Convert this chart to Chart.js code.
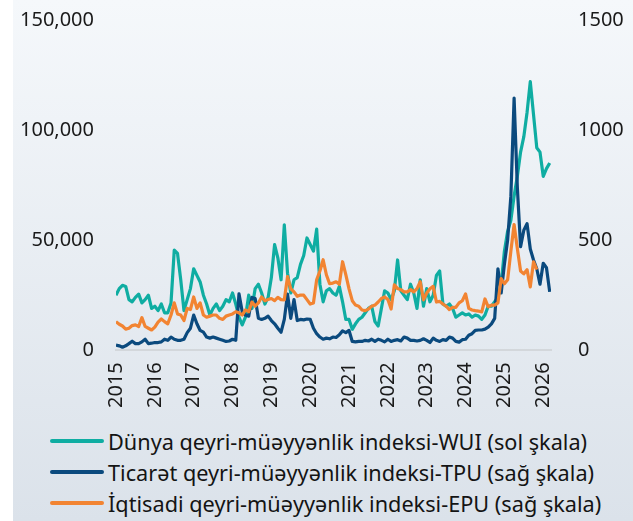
<!DOCTYPE html>
<html>
<head>
<meta charset="utf-8">
<script src="https://cdn.jsdelivr.net/npm/chart.js@4.4.1/dist/chart.umd.min.js"></script>
<style>
  html, body { margin: 0; padding: 0; background: #fff; overflow: hidden; }
  #wrap {
    position: absolute; left: 13px; top: 0; width: 620px; height: 521px;
    background: linear-gradient(#f5f8fb, #dbe2ea);
  }
  #box { position: absolute; left: 0; top: -19px; width: 633px; height: 431px; }
  .leg {
    position: absolute; left: 50px; height: 30px;
    font-family: "Noto Sans", sans-serif; font-size: 21.7px; color: #141414;
    display: flex; align-items: center; white-space: nowrap;
  }
  .leg i { display: inline-block; width: 54px; height: 4px; border-radius: 2px; margin-right: 4px; }
</style>
</head>
<body>
<div id="wrap"></div>
<div id="box"><canvas id="myChart"></canvas></div>
<div id="legend"></div>
<script>
// monthly, Jan 2015 ... Mar 2026
const startYear = 2015;

const wui = [
  25, 28, 29.5, 29, 23, 22, 24, 25.5, 21.5, 23, 25, 19,
  20, 18, 21, 17, 17, 21.5, 45.5, 44, 32, 18, 23, 28,
  37, 34, 31, 25, 21, 16, 19, 21, 18, 20, 23, 22,
  26, 21, 15, 11.5, 15, 25, 19, 28, 30, 26, 21, 24,
  33, 48, 42, 32, 57, 35, 26, 32, 33, 39, 43, 51,
  48, 45, 55, 30, 22, 27, 28, 26, 25, 29, 22, 14,
  14, 9.5, 12, 14, 15, 17, 19, 20, 13, 11, 19, 27,
  26, 23, 27, 41, 27, 25, 23, 30, 26, 19, 32, 20,
  28, 22, 25, 34, 36, 21, 20, 21, 19, 15, 16, 17,
  16, 16.5, 15, 16, 15.5, 14, 16, 20, 20, 22, 24, 30,
  45, 54, 59, 70, 79, 90, 97, 108, 122, 107, 92, 90,
  79, 82.5, 85
].map(v => v * 1000);

const tpu = [
  23, 20, 14, 20, 30, 41, 30, 30, 38, 50, 30, 32,
  35, 35, 38, 50, 45, 60, 50, 45, 45, 50, 80, 100,
  160, 120, 90, 82, 60, 55, 60, 55, 50, 45, 40, 42,
  50, 45, 256, 175, 160, 155, 240, 235, 145, 140, 145, 155,
  135, 120, 100, 82, 140, 255, 145, 230, 135, 140, 138, 142,
  140, 100, 75, 60, 50, 55, 52, 60, 58, 70, 88, 80,
  90, 40, 38, 40, 40, 45, 42, 50, 40, 50, 45, 38,
  50, 40, 45, 48, 42, 60, 55, 45, 45, 42, 45, 52,
  45, 35, 55, 45, 40, 48, 45, 60, 55, 40, 37, 48,
  50, 68, 75, 90, 92, 92, 96, 105, 120, 145, 370, 260,
  390, 500, 700, 1145, 740, 470, 545, 575, 460, 410, 370, 300,
  395, 375, 265
];

const epu = [
  130, 118, 110, 96, 100, 112, 115, 108, 148, 108, 100, 92,
  105, 128, 142, 130, 120, 160, 215, 165, 160, 135, 190, 185,
  242, 190, 215, 160, 150, 155, 160, 160, 145, 140, 155, 160,
  165, 175, 170, 160, 183, 175, 219, 200, 215, 242, 225, 230,
  235, 225, 240, 230, 229, 334, 279, 265, 245, 251, 250, 230,
  210, 215, 320, 360, 411, 343, 302, 305, 311, 300, 402, 343,
  279, 225, 205, 200, 183, 180, 187, 200, 205, 219, 235, 242,
  230, 187, 297, 280, 275, 265, 265, 275, 265, 280, 311, 229,
  260, 279, 290, 219, 222, 210, 200, 185, 195, 195, 215, 225,
  256, 190, 183, 180, 178, 174, 233, 197, 205, 205, 215, 325,
  302, 320, 450, 571, 462, 360, 347, 366, 288, 402, 366
];

const yearTicks = [2015, 2016, 2017, 2018, 2019, 2020, 2021, 2022, 2023, 2024, 2025, 2026];

const seriesNames = [
  'Dünya qeyri-müəyyənlik indeksi-WUI (sol şkala)',
  'Ticarət qeyri-müəyyənlik indeksi-TPU (sağ şkala)',
  'İqtisadi qeyri-müəyyənlik indeksi-EPU (sağ şkala)'
];
const colors = ['#0fada2', '#0b4a7e', '#f28432'];

function toPoints(arr) {
  return arr.map((v, i) => ({ x: startYear + i / 12, y: v }));
}

const font = { family: 'Noto Sans', size: 20 };

new Chart(document.getElementById('myChart'), {
  type: 'line',
  data: {
    datasets: [
      { label: seriesNames[0], data: toPoints(wui), borderColor: colors[0], yAxisID: 'y', order: 2 },
      { label: seriesNames[1], data: toPoints(tpu), borderColor: colors[1], yAxisID: 'y1', order: 1 },
      { label: seriesNames[2], data: toPoints(epu), borderColor: colors[2], yAxisID: 'y1', order: 0 }
    ]
  },
  options: {
    responsive: true,
    maintainAspectRatio: false,
    animation: false,
    layout: { padding: { top: 10, bottom: 0 } },
    elements: {
      line: { borderWidth: 3.2, tension: 0, borderJoinStyle: 'round' },
      point: { radius: 0 }
    },
    plugins: { legend: { display: false }, tooltip: { enabled: false } },
    scales: {
      x: {
        type: 'linear',
        min: 2015,
        max: 2026.2,
        afterBuildTicks: s => { s.ticks = yearTicks.map(v => ({ value: v })); },
        ticks: { font: font, color: '#1a1a1a', minRotation: 90, maxRotation: 90, padding: 4,
                 callback: v => String(v) },
        grid: { display: false },
        border: { display: true, color: '#d3d7db', width: 2 }
      },
      y: {
        position: 'left',
        min: 0, max: 150000,
        ticks: { stepSize: 50000, font: font, color: '#1a1a1a', padding: 22 },
        grid: { display: false, drawTicks: false },
        border: { display: false },
        afterFit: s => { s.width = 116; }
      },
      y1: {
        position: 'right',
        min: 0, max: 1500,
        ticks: { stepSize: 500, font: font, color: '#1a1a1a', padding: 27, callback: v => String(v) },
        grid: { display: false, drawTicks: false },
        border: { display: false },
        afterFit: s => { s.width = 82; }
      }
    }
  }
});

// legend below the chart
const legend = document.getElementById('legend');
seriesNames.forEach((name, k) => {
  const row = document.createElement('div');
  row.className = 'leg';
  row.style.top = (426 + k * 31) + 'px';
  row.innerHTML = '<i style="background:' + colors[k] + '"></i>' + name;
  legend.appendChild(row);
});
</script>
</body>
</html>
